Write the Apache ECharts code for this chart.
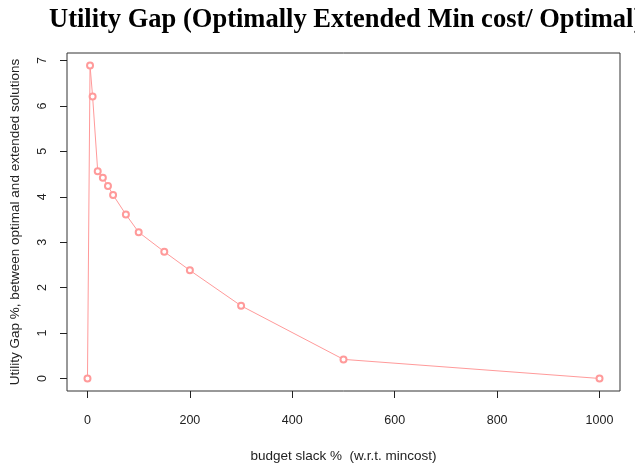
<!DOCTYPE html>
<html>
<head>
<meta charset="utf-8">
<script src="https://cdn.jsdelivr.net/npm/echarts@6/dist/echarts.min.js"></script>
<style>
html,body{margin:0;padding:0;background:#fff;}
#chart{width:635px;height:468px;}
</style>
</head>
<body>
<div id="chart"></div>
<script>
var budgetSlack = [0, 5, 10, 20, 30, 40, 50, 75, 100, 150, 200, 300, 500, 1000];
var utilityGap = [0, 6.89, 6.21, 4.56, 4.42, 4.24, 4.04, 3.61, 3.22, 2.79, 2.38, 1.60, 0.42, 0.0];
var xTicks = [0, 200, 400, 600, 800, 1000];
var yTicks = [0, 1, 2, 3, 4, 5, 6, 7];

var points = budgetSlack.map(function (x, i) { return [x, utilityGap[i]]; });

var chart = echarts.init(document.getElementById('chart'), null, {renderer: 'canvas'});
chart.setOption({
  animation: false,
  backgroundColor: '#fff',
  title: {
    text: 'Utility Gap (Optimally Extended Min cost/ Optimal)',
    left: 44,
    top: 2,
    textStyle: {fontFamily: 'Liberation Serif', fontWeight: 'bold', fontSize: 26.5, color: '#000'}
  },
  grid: {
    left: 64, right: 15, top: 53, bottom: 75,
    show: true, borderColor: '#333', borderWidth: 1, backgroundColor: 'transparent'
  },
  xAxis: [{
    type: 'value',
    min: -40, max: 1040,
    offset: 2,
    splitLine: {show: false},
    axisLine: {show: false, onZero: true, onZeroAxisIndex: 1},
    axisTick: {show: true, length: 7, customValues: xTicks, lineStyle: {color: '#222'}},
    axisLabel: {customValues: xTicks, margin: 21, fontFamily: 'Liberation Sans', fontSize: 12.5, color: '#222',
      formatter: function (v) { return String(v); }},
    name: 'budget slack %  (w.r.t. mincost)',
    nameLocation: 'middle',
    nameGap: 56,
    nameTextStyle: {fontFamily: 'Liberation Sans', fontSize: 13.5, color: '#222'}
  }, {
    type: 'value', min: 0, max: 1, show: false
  }],
  yAxis: [{
    type: 'value',
    min: -0.276, max: 7.166,
    splitLine: {show: false},
    axisLine: {show: false, onZero: true, onZeroAxisIndex: 1},
    axisTick: {show: true, length: 7, customValues: yTicks, lineStyle: {color: '#222'}},
    axisLabel: {customValues: yTicks, rotate: 90, margin: 18, fontFamily: 'Liberation Sans', fontSize: 12.5, color: '#222'},
    name: 'Utility Gap %, between optimal and extended solutions',
    nameLocation: 'middle',
    nameGap: 45,
    nameTextStyle: {fontFamily: 'Liberation Sans', fontSize: 13.5, color: '#222'}
  }, {
    type: 'value', min: 0, max: 1, show: false
  }],
  series: [{
    type: 'line',
    xAxisIndex: 0,
    yAxisIndex: 0,
    data: points,
    symbol: 'emptyCircle',
    symbolSize: 6,
    lineStyle: {color: '#ff9a9a', width: 1},
    itemStyle: {color: '#ff9a9a', borderColor: '#ff9a9a', borderWidth: 1},
    clip: false
  }]
});
</script>
</body>
</html>
